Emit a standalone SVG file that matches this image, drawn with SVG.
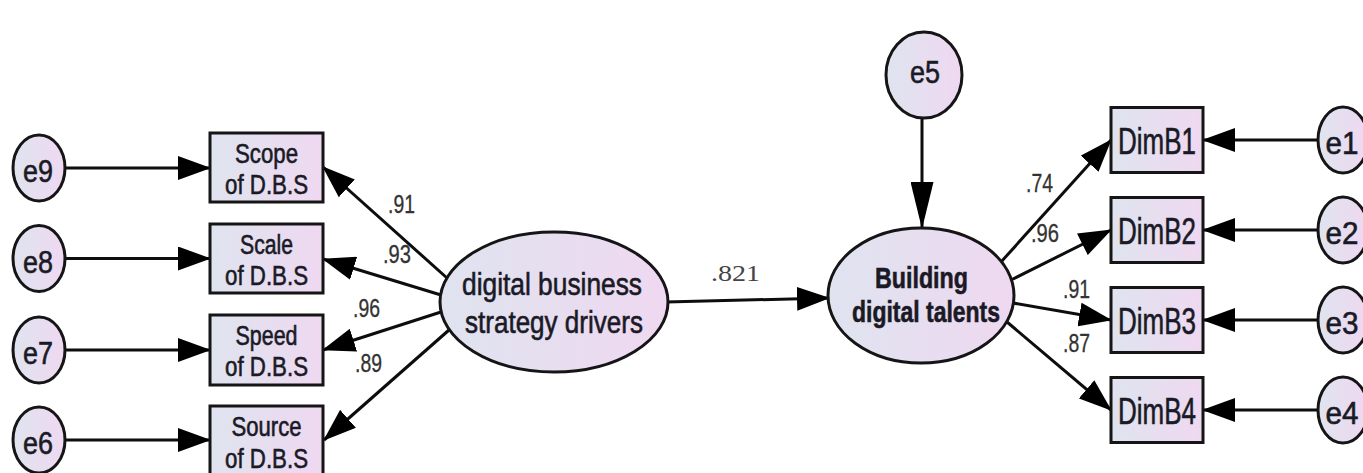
<svg xmlns="http://www.w3.org/2000/svg" width="1363" height="473" viewBox="0 0 1363 473">
<style>
.n{fill:url(#g);stroke:#151515;stroke-width:3}
.t{font-family:"Liberation Sans",Arial,sans-serif;fill:#1a1a26;stroke:#1a1a26;stroke-width:0.6;text-anchor:middle}
.c{stroke:#0d0d0d;stroke-width:3;fill:none;marker-end:url(#ah)}
.cv{stroke:#0d0d0d;stroke-width:3;fill:none;marker-end:url(#ahv)}
.l{font-family:"Liberation Sans",Arial,sans-serif;font-size:25px;fill:#333;stroke:#333;stroke-width:0.3}
.e{font-size:32px}
.b{font-size:27px}
.d{font-size:36px}
</style>
<defs>
<linearGradient id="g" x1="0" y1="0" x2="1" y2="0">
<stop offset="0" stop-color="#dfe4ef"/>
<stop offset="1" stop-color="#efd8f1"/>
</linearGradient>
<marker id="ah" markerUnits="userSpaceOnUse" markerWidth="33" markerHeight="24" refX="32" refY="12" orient="auto">
<path d="M0,0 L33,12 L0,24 Z" fill="#000"/>
</marker>
<marker id="ahv" markerUnits="userSpaceOnUse" markerWidth="47" markerHeight="23" refX="46" refY="11.5" orient="auto">
<path d="M0,0 L47,11.5 L0,23 Z" fill="#000"/>
</marker>
</defs>
<rect width="1363" height="473" fill="#fff"/>
<g id="connectors">
<path class="c" d="M65,168 H210"/>
<path class="c" d="M65,258.5 H210"/>
<path class="c" d="M65,350 H210"/>
<path class="c" d="M65,440 H210"/>
<path class="c" d="M447,278 L323,167"/>
<path class="c" d="M441,295 L323,259"/>
<path class="c" d="M441,312 L323,350"/>
<path class="c" d="M449,330 L324,440"/>
<path class="c" d="M666,302 L829,298"/>
<path class="cv" d="M922,118 V228"/>
<path class="c" d="M1001,262 L1111,140"/>
<path class="c" d="M1011,280 L1111,230"/>
<path class="c" d="M1013,303 L1111,320"/>
<path class="c" d="M1007,322 L1111,410"/>
<path class="c" d="M1318,140 H1203"/>
<path class="c" d="M1318,230 H1203"/>
<path class="c" d="M1318,320 H1203"/>
<path class="c" d="M1318,410 H1203"/>
<text class="l" x="388" y="213" textLength="27" lengthAdjust="spacingAndGlyphs">.91</text>
<text class="l" x="383" y="263" textLength="28" lengthAdjust="spacingAndGlyphs">.93</text>
<text class="l" x="353" y="317" textLength="27" lengthAdjust="spacingAndGlyphs">.96</text>
<text class="l" x="355" y="372" textLength="27" lengthAdjust="spacingAndGlyphs">.89</text>
<text x="711" y="281" font-family="Liberation Serif,serif" font-size="24" fill="#444" textLength="49" lengthAdjust="spacingAndGlyphs">.821</text>
<text class="l" x="1026" y="192" textLength="27" lengthAdjust="spacingAndGlyphs">.74</text>
<text class="l" x="1031" y="242" textLength="28" lengthAdjust="spacingAndGlyphs">.96</text>
<text class="l" x="1063" y="298" textLength="27" lengthAdjust="spacingAndGlyphs">.91</text>
<text class="l" x="1063" y="352" textLength="27" lengthAdjust="spacingAndGlyphs">.87</text>
</g>
<g id="e9"><ellipse class="n" cx="39" cy="168" rx="26" ry="33"/><text class="t e" x="38" y="182" textLength="30" lengthAdjust="spacingAndGlyphs">e9</text></g>
<g id="e8"><ellipse class="n" cx="39" cy="258.5" rx="26" ry="33"/><text class="t e" x="38" y="272.5" textLength="30" lengthAdjust="spacingAndGlyphs">e8</text></g>
<g id="e7"><ellipse class="n" cx="39" cy="350" rx="26" ry="33"/><text class="t e" x="38" y="364" textLength="30" lengthAdjust="spacingAndGlyphs">e7</text></g>
<g id="e6"><ellipse class="n" cx="39" cy="440" rx="26" ry="33"/><text class="t e" x="38" y="454" textLength="30" lengthAdjust="spacingAndGlyphs">e6</text></g>
<g id="scope"><rect class="n" x="210" y="133" width="113" height="69"/><text class="t b" x="266.5" y="163" textLength="63" lengthAdjust="spacingAndGlyphs">Scope</text><text class="t b" x="266.5" y="194" textLength="83" lengthAdjust="spacingAndGlyphs">of D.B.S</text></g>
<g id="scale"><rect class="n" x="210" y="224" width="113" height="69"/><text class="t b" x="266.5" y="254" textLength="53" lengthAdjust="spacingAndGlyphs">Scale</text><text class="t b" x="266.5" y="285" textLength="83" lengthAdjust="spacingAndGlyphs">of D.B.S</text></g>
<g id="speed"><rect class="n" x="210" y="315" width="113" height="70"/><text class="t b" x="266.5" y="345" textLength="62" lengthAdjust="spacingAndGlyphs">Speed</text><text class="t b" x="266.5" y="376" textLength="83" lengthAdjust="spacingAndGlyphs">of D.B.S</text></g>
<g id="source"><rect class="n" x="210" y="406" width="113" height="70"/><text class="t b" x="266.5" y="436" textLength="70" lengthAdjust="spacingAndGlyphs">Source</text><text class="t b" x="266.5" y="468" textLength="83" lengthAdjust="spacingAndGlyphs">of D.B.S</text></g>
<g id="dbsd"><ellipse class="n" cx="554" cy="302" rx="114" ry="70"/><text class="t" font-size="31" x="552" y="295" textLength="180" lengthAdjust="spacingAndGlyphs">digital business</text><text class="t" font-size="31" x="554" y="333" textLength="178" lengthAdjust="spacingAndGlyphs">strategy drivers</text></g>
<g id="e5"><ellipse class="n" cx="924" cy="75" rx="38" ry="43"/><text class="t e" x="925" y="83" textLength="30" lengthAdjust="spacingAndGlyphs">e5</text></g>
<g id="bdt"><ellipse class="n" cx="921" cy="295.5" rx="93" ry="67.5"/><text class="t" font-size="29" font-weight="bold" x="921.5" y="288" textLength="93" lengthAdjust="spacingAndGlyphs">Building</text><text class="t" font-size="29" font-weight="bold" x="926" y="322" textLength="148" lengthAdjust="spacingAndGlyphs">digital talents</text></g>
<g id="dimb1"><rect class="n" x="1111" y="107.5" width="92" height="65"/><text class="t d" x="1157" y="154" textLength="78" lengthAdjust="spacingAndGlyphs">DimB1</text></g>
<g id="dimb2"><rect class="n" x="1111" y="197.5" width="92" height="65"/><text class="t d" x="1157" y="244" textLength="78" lengthAdjust="spacingAndGlyphs">DimB2</text></g>
<g id="dimb3"><rect class="n" x="1111" y="287.5" width="92" height="65"/><text class="t d" x="1157" y="334" textLength="78" lengthAdjust="spacingAndGlyphs">DimB3</text></g>
<g id="dimb4"><rect class="n" x="1111" y="377.5" width="92" height="65"/><text class="t d" x="1157" y="424" textLength="78" lengthAdjust="spacingAndGlyphs">DimB4</text></g>
<g id="e1"><ellipse class="n" cx="1343" cy="140" rx="25" ry="33"/><text class="t e" x="1342" y="154" textLength="33" lengthAdjust="spacingAndGlyphs">e1</text></g>
<g id="e2"><ellipse class="n" cx="1343" cy="230" rx="25" ry="33"/><text class="t e" x="1342" y="244" textLength="33" lengthAdjust="spacingAndGlyphs">e2</text></g>
<g id="e3"><ellipse class="n" cx="1343" cy="320" rx="25" ry="33"/><text class="t e" x="1342" y="334" textLength="33" lengthAdjust="spacingAndGlyphs">e3</text></g>
<g id="e4"><ellipse class="n" cx="1343" cy="410" rx="25" ry="33"/><text class="t e" x="1342" y="424" textLength="33" lengthAdjust="spacingAndGlyphs">e4</text></g>
</svg>
